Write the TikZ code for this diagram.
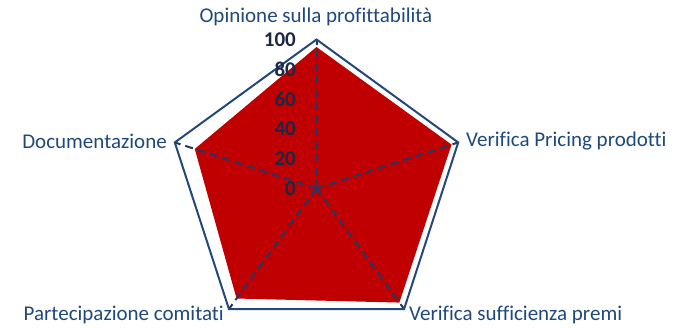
\documentclass[tikz,border=0pt]{standalone}
\usepackage{fontspec}
\setmainfont{Carlito}[Ligatures=NoCommon]
\usetikzlibrary{calc}
\definecolor{lblblue}{RGB}{31,73,125}
\definecolor{outline}{RGB}{35,72,122}
\definecolor{spoke}{RGB}{31,56,100}
\definecolor{ticknavy}{RGB}{28,40,70}
\definecolor{fillred}{RGB}{192,0,0}
\begin{document}
\begin{tikzpicture}[x=1pt,y=1pt,
  axlabel/.style={font=\fontsize{21}{24}\selectfont, text=lblblue, inner sep=0pt},
  ticklabel/.style={font=\fontsize{21}{24}\selectfont\bfseries, text=ticknavy, anchor=east, inner sep=0pt},
  spokeline/.style={draw=spoke, line width=2pt, dash pattern=on 8pt off 5pt},
  gridline/.style={draw=outline, line width=2pt, line join=miter},
  datafill/.style={fill=fillred}]
\useasboundingbox (0,0) rectangle (695,328);
\coordinate (C) at (316.5,139.5);
% outer vertices (100)
\coordinate (V1) at ($(C)+(90:149)$);
\coordinate (V2) at ($(C)+(18:149)$);
\coordinate (V3) at ($(C)+(-54:149)$);
\coordinate (V4) at ($(C)+(-126:149)$);
\coordinate (V5) at ($(C)+(162:149)$);
% data vertices
\coordinate (D1) at ($(C)+(90:141.5)$);
\coordinate (D2) at ($(C)+(18:142)$);
\coordinate (D3) at ($(C)+(-54:141)$);
\coordinate (D4) at ($(C)+(-126:136)$);
\coordinate (D5) at ($(C)+(162:128)$);
\fill[datafill] (D1) -- (D2) -- (D3) -- (D4) -- (D5) -- cycle;
\foreach \v in {V1,V2,V3,V4,V5} \draw[spokeline] (C) -- (\v);
\draw[gridline] (V1) -- (V2) -- (V3) -- (V4) -- (V5) -- cycle;
% tick labels
\foreach \t in {0,20,40,60,80,100}
  \node[ticklabel] (t\t) at (296,{139.5+1.49*\t}) {\t};
% axis labels
\node[axlabel, anchor=center] (L1) at (316,311) {Opinione sulla profittabilità};
\node[axlabel, anchor=west] (L2) at (466,187) {Verifica Pricing prodotti};
\node[axlabel, anchor=west] (L3) at (409,13) {Verifica sufficienza premi};
\node[axlabel, anchor=east] (L4) at (224,13) {Partecipazione comitati};
\node[axlabel, anchor=east] (L5) at (167,187) {Documentazione};
\end{tikzpicture}
\end{document}
